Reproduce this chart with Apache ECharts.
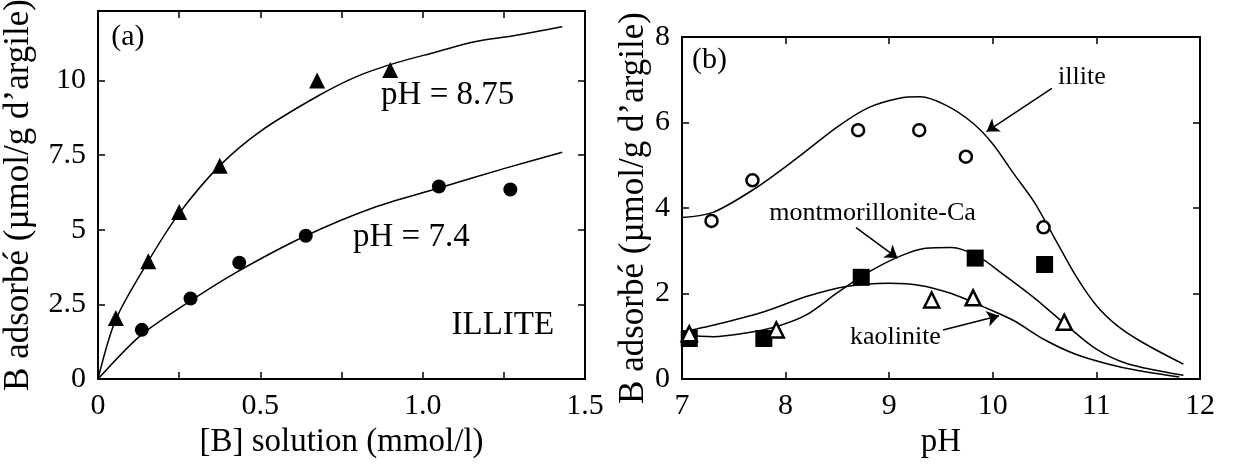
<!DOCTYPE html>
<html>
<head>
<meta charset="utf-8">
<script src="https://cdn.jsdelivr.net/npm/echarts@6/dist/echarts.min.js"></script>
<style>
  html, body { margin: 0; padding: 0; background: #fff; }
  #chart { width: 1238px; height: 464px; }
</style>
</head>
<body>
<div id="chart"></div>
<script>
// panel (a): illite isotherms
const isoTriX = [0.055, 0.155, 0.25, 0.375, 0.675, 0.9];
const isoTriY = [2.05, 3.95, 5.6, 7.15, 10.0, 10.35];
const isoCirX = [0.135, 0.285, 0.435, 0.64, 1.05, 1.27];
const isoCirY = [1.65, 2.7, 3.9, 4.8, 6.45, 6.35];
const fitHighX = [0, 0.055, 0.155, 0.25, 0.375, 0.5, 0.68, 0.8, 0.92, 1.04, 1.16, 1.28, 1.43];
const fitHighY = [0, 2.0, 3.95, 5.55, 7.15, 8.3, 9.5, 10.15, 10.6, 10.95, 11.3, 11.5, 11.8];
const fitLowX = [0, 0.13, 0.285, 0.43, 0.64, 0.85, 1.05, 1.25, 1.43];
const fitLowY = [0, 1.45, 2.62, 3.6, 4.8, 5.75, 6.4, 7.05, 7.6];

// panel (b): pH edges
const illX = [7.285, 7.68, 8.7, 9.29, 9.74, 10.49];
const illY = [3.7, 4.65, 5.82, 5.82, 5.2, 3.55];
const monX = [7.07, 7.79, 8.73, 9.83, 10.5];
const monY = [0.95, 0.95, 2.38, 2.83, 2.68];
const kaoX = [7.07, 7.91, 9.41, 9.81, 10.69];
const kaoY = [1.06, 1.15, 1.85, 1.9, 1.33];
const illFitX = [7, 7.3, 7.7, 8.1, 8.5, 8.8, 9.1, 9.3, 9.55, 9.8, 10.0, 10.2, 10.4, 10.6, 10.8, 11.0, 11.2, 11.45, 11.84];
const illFitY = [3.78, 3.9, 4.45, 5.15, 5.9, 6.35, 6.57, 6.6, 6.4, 6.0, 5.5, 4.81, 4.14, 3.28, 2.42, 1.72, 1.25, 0.85, 0.35];
const monFitX = [7, 7.3, 7.6, 7.9, 8.2, 8.5, 8.8, 9.1, 9.35, 9.6, 9.85, 10.1, 10.4, 10.7, 11.0, 11.3, 11.84];
const monFitY = [1.03, 0.99, 1.07, 1.22, 1.5, 2.02, 2.5, 2.87, 3.06, 3.08, 2.88, 2.45, 1.9, 1.28, 0.7, 0.36, 0.09];
const kaoFitX = [7, 7.4, 7.8, 8.2, 8.6, 9.0, 9.3, 9.6, 9.9, 10.2, 10.5, 10.8, 11.1, 11.4, 11.8];
const kaoFitY = [1.1, 1.32, 1.58, 1.93, 2.17, 2.24, 2.19, 2.0, 1.7, 1.37, 0.92, 0.58, 0.36, 0.2, 0.05];

// annotations [x, y, text]
const notesA = [[0.092, 11.45, '(a)'], [1.077, 9.5, 'pH = 8.75'], [0.965, 4.75, 'pH = 7.4'], [1.247, 1.8, 'ILLITE']];
const notesB = [[7.265, 7.46, '(b)'], [10.86, 7.05, 'illite'], [8.84, 3.88, 'montmorillonite-Ca'], [9.06, 0.99, 'kaolinite']];
const arrowsB = [
  [[10.57, 6.8], [9.94, 5.79]],
  [[8.68, 3.54], [9.08, 2.83]],
  [[9.52, 1.15], [10.06, 1.48]]
];

const zip = (xs, ys) => xs.map((x, i) => [x, ys[i]]);
const FONT = '"Liberation Serif", "Times New Roman", serif';
const ink = '#000';

function frameAxis(min, max, interval, pos, gridIndex, labels, fmt) {
  return {
    type: 'value', gridIndex: gridIndex, position: pos,
    min: min, max: max, interval: interval,
    axisLine: { show: true, onZero: false, lineStyle: { color: ink, width: 2 } },
    axisTick: { show: true, inside: true, length: 7, lineStyle: { color: ink, width: 1.5 } },
    splitLine: { show: false },
    axisLabel: {
      show: labels, color: ink, fontFamily: FONT, fontSize: 30, margin: 12,
      showMaxLabel: (max % interval === 0), formatter: fmt
    }
  };
}

const fmtA = v => {
  if (Math.abs(v / 0.5 - Math.round(v / 0.5)) > 1e-6) return '';
  return v === 0 ? '0' : v.toFixed(1);
};

const titleStyle = { color: ink, fontFamily: FONT, fontSize: 33 };

const xA = frameAxis(0, 1.5, 0.25, 'bottom', 0, true, fmtA);
xA.name = '[B] solution (mmol/l)';
xA.nameLocation = 'middle';
xA.nameGap = 46;
xA.nameTextStyle = titleStyle;

const yA = frameAxis(0, 12.33, 2.5, 'left', 0, true);
yA.name = 'B adsorbé (µmol/g d’argile)';
yA.nameLocation = 'middle';
yA.nameGap = 62;
yA.nameTextStyle = { color: ink, fontFamily: FONT, fontSize: 35 };

const xB = frameAxis(7, 12, 1, 'bottom', 1, true);
xB.name = 'pH';
xB.nameLocation = 'middle';
xB.nameGap = 46;
xB.nameTextStyle = titleStyle;

const yB = frameAxis(0, 8, 2, 'left', 1, true);
yB.name = 'B adsorbé (µmol/g d’argile)';
yB.nameLocation = 'middle';
yB.nameGap = 30;
yB.nameTextStyle = { color: ink, fontFamily: FONT, fontSize: 35 };

function curve(data, xi) {
  return {
    type: 'line', xAxisIndex: xi, yAxisIndex: xi, data: data,
    smooth: 0.3, showSymbol: false, symbol: 'none',
    lineStyle: { color: ink, width: 1.5 }, silent: true, z: 2
  };
}
function dots(data, xi, symbol, size, filled) {
  return {
    type: 'scatter', xAxisIndex: xi, yAxisIndex: xi, data: data,
    symbol: symbol, symbolSize: size, silent: true, z: 3,
    itemStyle: filled
      ? { color: ink, opacity: 1 }
      : { color: '#fff', borderColor: ink, borderWidth: 2.5, opacity: 1 }
  };
}
function notes(list, xi, size) {
  return {
    type: 'scatter', xAxisIndex: xi, yAxisIndex: xi, symbolSize: 0, silent: true, z: 5,
    itemStyle: { color: ink, opacity: 1 },
    data: list.map(n => ({ value: [n[0], n[1]], name: n[2] })),
    label: {
      show: true, position: 'inside', formatter: '{b}', opacity: 1,
      color: ink, fontFamily: FONT, fontSize: size,
      textBorderWidth: 0, textShadowBlur: 0
    }
  };
}

const chart = echarts.init(document.getElementById('chart'), null, { renderer: 'canvas' });
chart.setOption({
  backgroundColor: '#fff',
  animation: false,
  grid: [
    { left: 95, top: 11, width: 490, height: 381 },
    { left: 682, top: 37, width: 518, height: 359 }
  ],
  xAxis: [
    xA,
    frameAxis(0, 1.5, 0.25, 'top', 0, false),
    xB,
    frameAxis(7, 12, 1, 'top', 1, false)
  ],
  yAxis: [
    yA,
    frameAxis(0, 12.33, 2.5, 'right', 0, false),
    yB,
    frameAxis(0, 8, 2, 'right', 1, false)
  ],
  series: [
    curve(zip(fitHighX, fitHighY), 0),
    curve(zip(fitLowX, fitLowY), 0),
    dots(zip(isoTriX, isoTriY), 0, 'triangle', 16, true),
    dots(zip(isoCirX, isoCirY), 0, 'circle', 14, true),
    notes([notesA[0]], 0, 30),
    notes(notesA.slice(1), 0, 33),

    curve(zip(illFitX, illFitY), 2),
    curve(zip(monFitX, monFitY), 2),
    curve(zip(kaoFitX, kaoFitY), 2),
    dots(zip(illX, illY), 2, 'circle', 12, false),
    dots(zip(monX, monY), 2, 'rect', 17, true),
    dots(zip(kaoX, kaoY), 2, 'triangle', 15, false),
    {
      type: 'lines', coordinateSystem: 'cartesian2d', xAxisIndex: 2, yAxisIndex: 2,
      data: arrowsB.map(a => ({ coords: a })),
      symbol: ['none', 'arrow'], symbolSize: 12, silent: true, z: 4,
      lineStyle: { color: ink, width: 1.5, opacity: 1 }
    },
    notes([notesB[0]], 2, 30),
    notes(notesB.slice(1), 2, 26)
  ]
});
</script>
</body>
</html>
